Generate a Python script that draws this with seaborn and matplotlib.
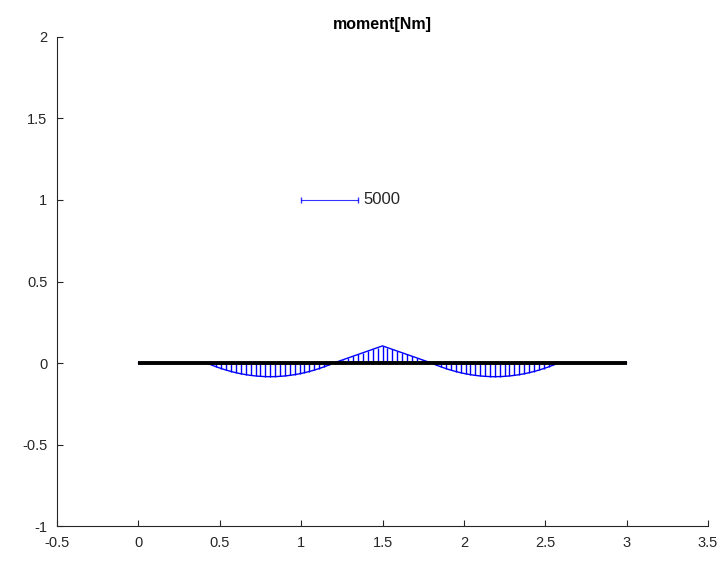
import numpy as np
import pandas as pd
import matplotlib
matplotlib.use("Agg")
import matplotlib.pyplot as plt
from matplotlib.ticker import FuncFormatter
import seaborn as sns

# beam from 0 to 3 m, moment sampled every 0.03 m
beam_start = 0.0
beam_end = 3.0
stations = np.round(np.arange(0, 101) * 0.03, 2)
moment = [
    # 0.00 - 0.39
    0, 0, 0, 0, 0, 0, 0, 0, 0, 0, 0, 0, 0, 0,
    # 0.42 - 1.20
    0, -180, -340, -490, -625, -745, -850, -945, -1020, -1085, -1135, -1170, -1190,
    -1200, -1190, -1170, -1135, -1085, -1020, -945, -850, -745, -625, -490, -340, -180, 0,
    # 1.23 - 1.77
    150, 300, 450, 600, 750, 900, 1050, 1200, 1350, 1500,
    1350, 1200, 1050, 900, 750, 600, 450, 300, 150,
    # 1.80 - 2.58
    0, -180, -340, -490, -625, -745, -850, -945, -1020, -1085, -1135, -1170, -1190,
    -1200, -1190, -1170, -1135, -1085, -1020, -945, -850, -745, -625, -490, -340, -180, 0,
    # 2.61 - 3.00
    0, 0, 0, 0, 0, 0, 0, 0, 0, 0, 0, 0, 0, 0,
]
scale_value = 5000
scale_length = 0.35
scale_origin = (1.0, 1.0)

df = pd.DataFrame({"x": stations, "M": moment})
df["y"] = df["M"] * scale_length / scale_value

sns.set_style("ticks")
plt.rcParams["font.family"] = ["Liberation Sans", "DejaVu Sans"]
plt.rcParams["axes.unicode_minus"] = False
plt.rcParams["xtick.direction"] = "in"
plt.rcParams["ytick.direction"] = "in"

fig = plt.figure(figsize=(7.27, 5.63), dpi=100)
ax = fig.add_axes([0.0784, 0.0657, 0.8955, 0.8686])

blue = (0, 0, 1)
ax.vlines(df["x"], 0, df["y"], color=blue, linewidth=1.0)
sns.lineplot(data=df, x="x", y="y", color=blue, linewidth=1.0, ax=ax, sort=False)

ax.plot([beam_start, beam_end], [0, 0], color="black", linewidth=2.8, solid_capstyle="butt")

sx = [scale_origin[0], scale_origin[0] + scale_length]
sy = [scale_origin[1], scale_origin[1]]
ax.plot(sx, sy, color=blue, linewidth=0.8, marker="|", markersize=5,
        markeredgewidth=1.0, alpha=0.8)
ax.text(sx[1] + 0.03, scale_origin[1], str(scale_value), fontsize=12,
        va="center", ha="left", color="#262626")

ax.set_xlim(-0.5, 3.5)
ax.set_ylim(-1, 2)
ax.set_xticks(np.arange(-0.5, 3.51, 0.5))
ax.set_yticks(np.arange(-1, 2.01, 0.5))
fmt = FuncFormatter(lambda v, p: "%g" % v)
ax.xaxis.set_major_formatter(fmt)
ax.yaxis.set_major_formatter(fmt)
ax.tick_params(labelsize=10.5, colors="#262626", length=4, width=0.8)
ax.tick_params(axis="x", pad=7)
ax.tick_params(axis="y", pad=7)
ax.set_xlabel("")
ax.set_ylabel("")
sns.despine(ax=ax)
for s in ["left", "bottom"]:
    ax.spines[s].set_color("#262626")
    ax.spines[s].set_linewidth(0.8)

ax.set_title("moment[Nm]", fontsize=11.5, fontweight="bold", color="black", pad=6)

fig.savefig("out.png", dpi=100)
